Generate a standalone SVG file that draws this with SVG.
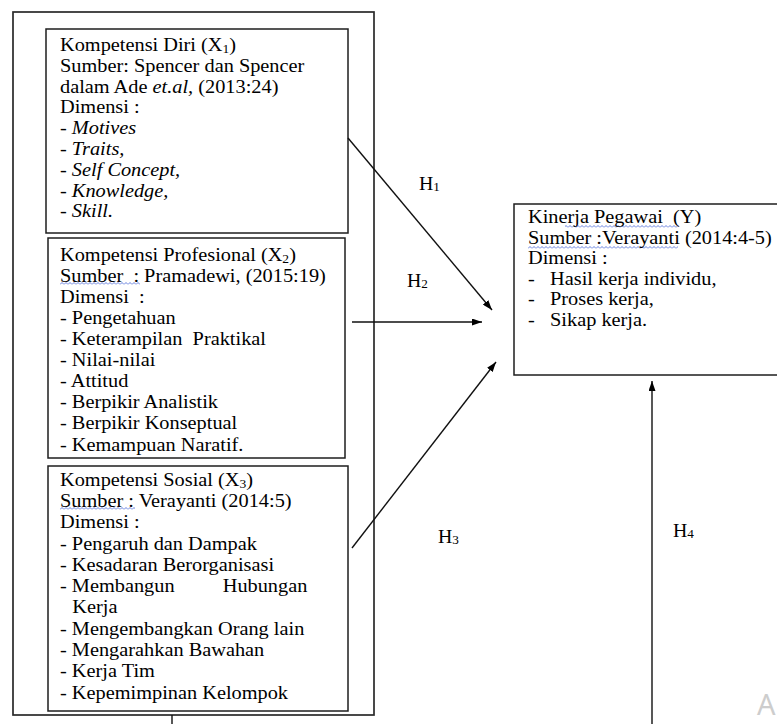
<svg xmlns="http://www.w3.org/2000/svg" width="777" height="724" viewBox="0 0 777 724">
<style>
.t { font-family: "Liberation Serif", "Times New Roman", serif; font-size: 18px; fill: #000; }
.h { font-family: "Liberation Serif", "Times New Roman", serif; font-size: 18px; fill: #000; }
.i { font-style: italic; }
.box { fill: #fff; stroke: #1e1e1e; stroke-width: 1.5; }
.outer { fill: #fff; stroke: #2a2a2a; stroke-width: 1.7; }
.con { fill: none; stroke: #111; stroke-width: 1.4; }
.wv { fill: url(#wavy); }
</style>
<defs>
<pattern id="wavy" width="4" height="3" patternUnits="userSpaceOnUse">
<path d="M0,2.5 L2,0.5 L4,2.5" fill="none" stroke="#3d5fd6" stroke-width="0.8"/>
</pattern>
<marker id="arr" viewBox="0 0 10 7" refX="10" refY="3.5" markerWidth="10" markerHeight="7" markerUnits="userSpaceOnUse" orient="auto">
<path d="M0,0 L10,3.5 L0,7 z" fill="#000"/>
</marker>
</defs>
<rect width="777" height="724" fill="#fff"/>

<g id="outer">
<rect class="outer" x="13" y="12" width="361" height="703"/>
</g>

<g id="x1">
<rect class="box" x="46" y="29" width="302" height="204"/>
<g transform="translate(60,0) scale(1.13,1)">
<text class="t" x="0" y="51">Kompetensi Diri (X<tspan font-size="12" dy="2">1</tspan><tspan dy="-2">)</tspan></text>
<text class="t" x="0" y="71.8">Sumber: Spencer dan Spencer</text>
<text class="t" x="0" y="92.6">dalam Ade <tspan class="i">et.al,</tspan> (2013:24)</text>
<text class="t" x="0" y="113.4">Dimensi :</text>
<text class="t" x="0" y="134.2">- <tspan class="i">Motives</tspan></text>
<text class="t" x="0" y="155">- <tspan class="i">Traits,</tspan></text>
<text class="t" x="0" y="175.8">- <tspan class="i">Self Concept,</tspan></text>
<text class="t" x="0" y="196.6">- <tspan class="i">Knowledge,</tspan></text>
<text class="t" x="0" y="217.4">- <tspan class="i">Skill.</tspan></text>
</g>
</g>

<g id="x2">
<rect class="box" x="48" y="238" width="297" height="220"/>
<rect class="wv" x="60" y="282" width="80" height="3"/>
<g transform="translate(60,0) scale(1.13,1)">
<text class="t" x="0" y="260.7">Kompetensi Profesional (X<tspan font-size="12" dy="2">2</tspan><tspan dy="-2">)</tspan></text>
<text class="t" x="0" y="281.8" xml:space="preserve">Sumber  : Pramadewi, (2015:19)</text>
<text class="t" x="0" y="302.9" xml:space="preserve">Dimensi  :</text>
<text class="t" x="0" y="324">- Pengetahuan</text>
<text class="t" x="0" y="345.1" xml:space="preserve">- Keterampilan  Praktikal</text>
<text class="t" x="0" y="366.2">- Nilai-nilai</text>
<text class="t" x="0" y="387.3">- Attitud</text>
<text class="t" x="0" y="408.4">- Berpikir Analistik</text>
<text class="t" x="0" y="429.5">- Berpikir Konseptual</text>
<text class="t" x="0" y="450.6">- Kemampuan Naratif.</text>
</g>
</g>

<g id="x3">
<rect class="box" x="48" y="466" width="300" height="245"/>
<rect class="wv" x="60" y="507" width="75" height="3"/>
<g transform="translate(60,0) scale(1.13,1)">
<text class="t" x="0" y="485.7">Kompetensi Sosial (X<tspan font-size="12" dy="2">3</tspan><tspan dy="-2">)</tspan></text>
<text class="t" x="0" y="507">Sumber : Verayanti (2014:5)</text>
<text class="t" x="0" y="528.3">Dimensi :</text>
<text class="t" x="0" y="549.6">- Pengaruh dan Dampak</text>
<text class="t" x="0" y="570.9">- Kesadaran Berorganisasi</text>
<text class="t" x="0" y="592.2">- Membangun</text>
<text class="t" x="144" y="592.2">Hubungan</text>
<text class="t" x="10.9" y="613.5">Kerja</text>
<text class="t" x="0" y="634.8">- Mengembangkan Orang lain</text>
<text class="t" x="0" y="656.1">- Mengarahkan Bawahan</text>
<text class="t" x="0" y="677.4">- Kerja Tim</text>
<text class="t" x="0" y="698.7">- Kepemimpinan Kelompok</text>
</g>
</g>

<g id="y">
<rect class="box" x="514" y="204" width="290" height="171"/>
<rect class="wv" x="565" y="225" width="114" height="3"/>
<rect class="wv" x="528" y="246" width="150" height="3"/>
<g transform="translate(528,0) scale(1.13,1)">
<text class="t" x="0" y="223.5" xml:space="preserve">Kinerja Pegawai  (Y)</text>
<text class="t" x="0" y="244">Sumber :Verayanti (2014:4-5)</text>
<text class="t" x="0" y="264.5">Dimensi :</text>
<text class="t" x="0" y="285">-</text><text class="t" x="19.5" y="285">Hasil kerja individu,</text>
<text class="t" x="0" y="305.5">-</text><text class="t" x="19.5" y="305.5">Proses kerja,</text>
<text class="t" x="0" y="326">-</text><text class="t" x="19.5" y="326">Sikap kerja.</text>
</g>
</g>

<g id="connectors">
<line class="con" x1="348" y1="138" x2="492" y2="310" marker-end="url(#arr)"/>
<line class="con" x1="352" y1="322" x2="482" y2="322" marker-end="url(#arr)"/>
<line class="con" x1="352" y1="548" x2="496" y2="362" marker-end="url(#arr)"/>
<line class="con" x1="652" y1="724" x2="652" y2="381" marker-end="url(#arr)"/>
<line class="con" x1="172" y1="715" x2="172" y2="724"/>
</g>

<g id="labels">
<g transform="translate(419,0) scale(1.1,1)"><text class="h" x="0" y="190">H<tspan font-size="12" dy="1">1</tspan></text></g>
<g transform="translate(407,0) scale(1.1,1)"><text class="h" x="0" y="287">H<tspan font-size="12" dy="1">2</tspan></text></g>
<g transform="translate(438,0) scale(1.1,1)"><text class="h" x="0" y="543">H<tspan font-size="12" dy="1">3</tspan></text></g>
<g transform="translate(673,0) scale(1.1,1)"><text class="h" x="0" y="537">H<tspan font-size="12" dy="1">4</tspan></text></g>
</g>

<text x="757" y="715" font-family="'Noto Sans', 'Liberation Sans', sans-serif" font-size="29" fill="#cdcdcd">A</text>
</svg>
